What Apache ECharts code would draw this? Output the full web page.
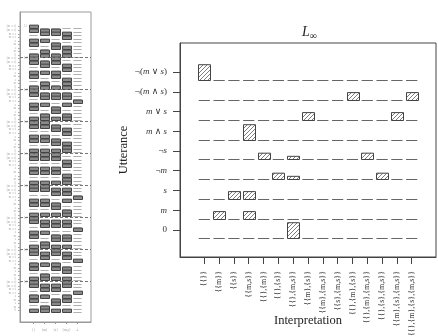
<!DOCTYPE html>
<html>
<head>
<meta charset="utf-8">
<script src="https://cdn.jsdelivr.net/npm/echarts@6/dist/echarts.min.js"></script>
<style>
  html, body { margin: 0; padding: 0; background: #fff; }
  #chart { width: 438px; height: 336px; }
</style>
</head>
<body>
<div id="chart"></div>
<script>
// utterances, top row first
const utterances = ['¬(m ∨ s)', '¬(m ∧ s)', 'm ∨ s', 'm ∧ s', '¬s', '¬m', 's', 'm', '0'];
const interpretations = ['{{}}', '{{m}}', '{{s}}', '{{m,s}}', '{{},{m}}', '{{},{s}}', '{{},{m,s}}',
  '{{m},{s}}', '{{m},{m,s}}', '{{s},{m,s}}', '{{},{m},{s}}', '{{},{m},{m,s}}', '{{},{s},{m,s}}',
  '{{m},{s},{m,s}}', '{{},{m},{s},{m,s}}'];

// L-infinity listener, one row per utterance (same order as utterances)
const linfRows = [
  [1, 0, 0, 0, 0, 0, 0, 0, 0, 0, 0, 0, 0, 0, 0],
  [0, 0, 0, 0, 0, 0, 0, 0, 0, 0, 0.5, 0, 0, 0, 0.5],
  [0, 0, 0, 0, 0, 0, 0, 0.5, 0, 0, 0, 0, 0, 0.5, 0],
  [0, 0, 0, 1, 0, 0, 0, 0, 0, 0, 0, 0, 0, 0, 0],
  [0, 0, 0, 0, 0.4, 0, 0.2, 0, 0, 0, 0, 0.4, 0, 0, 0],
  [0, 0, 0, 0, 0, 0.4, 0.2, 0, 0, 0, 0, 0, 0.4, 0, 0],
  [0, 0, 0.5, 0.5, 0, 0, 0, 0, 0, 0, 0, 0, 0, 0, 0],
  [0, 0.5, 0, 0.5, 0, 0, 0, 0, 0, 0, 0, 0, 0, 0, 0],
  [0, 0, 0, 0, 0, 0, 1, 0, 0, 0, 0, 0, 0, 0, 0]
];

// small panel: one lexicon per block, columns = worlds + contradiction
const worldLabels = ['{}', '{m}', '{s}', '{m,s}', '⊥'];
const lexiconNames = ['L1', 'L2', 'L3', 'L4', 'L5', 'L6', 'L7', 'L8', 'L9'];
const lexicon1 = [[1,0,0,0,0],[1,1,1,0,0],[0,1,1,1,0],[0,0,0,1,0],[1,1,0,0,0],[1,0,1,0,0],[0,0,1,1,0],[0,1,0,1,0],[1,1,1,1,0]];
const lexicon2 = [[1,0,1,0,0],[1,1,1,0,0],[0,1,0,1,0],[0,0,0,1,0],[1,1,1,0,0],[1,0,1,0,0],[0,0,0,1,0],[0,1,0,1,0],[1,1,1,1,0]];
const lexicon3 = [[1,0,0,0,0],[1,1,1,1,0],[0,1,1,1,0],[0,0,0,0,1],[1,1,0,1,0],[1,0,1,0,0],[0,0,1,0,0],[0,1,0,1,0],[1,1,1,1,0]];
const lexicon4 = [[1,1,0,0,0],[1,1,1,0,0],[0,0,1,1,0],[0,0,0,1,0],[1,1,0,0,0],[1,1,1,0,0],[0,0,1,1,0],[0,0,0,1,0],[1,1,1,1,0]];
const lexicon5 = [[1,1,1,0,0],[1,1,1,0,0],[0,0,0,1,0],[0,0,0,1,0],[1,1,1,0,0],[1,1,1,0,0],[0,0,0,1,0],[0,0,0,1,0],[1,1,1,1,0]];
const lexicon6 = [[1,1,0,0,0],[1,1,1,1,0],[0,0,1,1,0],[0,0,0,0,1],[1,1,0,1,0],[1,1,1,0,0],[0,0,1,0,0],[0,0,0,1,0],[1,1,1,1,0]];
const lexicon7 = [[1,0,0,0,0],[1,1,1,1,0],[0,1,1,1,0],[0,0,0,0,1],[1,1,0,0,0],[1,0,1,1,0],[0,0,1,1,0],[0,1,0,0,0],[1,1,1,1,0]];
const lexicon8 = [[1,0,1,0,0],[1,1,1,1,0],[0,1,0,1,0],[0,0,0,0,1],[1,1,1,0,0],[1,0,1,1,0],[0,0,0,1,0],[0,1,0,0,0],[1,1,1,1,0]];
const lexicon9 = [[1,0,0,1,0],[1,1,1,1,0],[0,1,1,0,0],[0,0,0,0,1],[1,1,0,1,0],[1,0,1,1,0],[0,0,1,0,0],[0,1,0,0,0],[1,1,1,1,0]];

const serif = '"Liberation Serif", "DejaVu Serif", serif';
const nU = utterances.length;
const lexica = [lexicon1, lexicon2, lexicon3, lexicon4, lexicon5, lexicon6, lexicon7, lexicon8, lexicon9];
const nRows = lexica.length * nU;   // rows in the small panel

const mainData = [];
linfRows.forEach((row, r) => row.forEach((p, c) => mainData.push([c + 1, nU - 1 - r, p])));

const thumbData = [];
lexica.forEach((lex, g) => lex.forEach((row, r) => row.forEach((p, c) => {
  thumbData.push([c + 1, nRows - 1 - (g * nU + r), p]);
})));

// diagonal hatch used to fill the bars
function makeHatch(color) {
  const cv = document.createElement('canvas');
  cv.width = 4; cv.height = 4;
  const hc = cv.getContext('2d');
  hc.strokeStyle = color;
  hc.lineWidth = 0.9;
  hc.beginPath();
  hc.moveTo(0, 4); hc.lineTo(4, 0);
  hc.moveTo(-1, 1); hc.lineTo(1, -1);
  hc.moveTo(3, 5); hc.lineTo(5, 3);
  hc.stroke();
  return cv;
}

function cellRenderer(opt) {
  return function (params, api) {
    const col = api.value(0), row = api.value(1), p = api.value(2);
    const base = api.coord([col, row - 0.42]);
    const y0 = Math.round(base[1]) + 0.5;
    if (p > 0) {
      const w = api.size([opt.barWidth, 0])[0];
      const h = api.size([0, p * opt.fullHeight])[1];
      return {
        type: 'rect',
        shape: { x: Math.round(base[0] - w / 2) + 0.5, y: y0 - h, width: Math.round(w), height: h },
        style: { fill: opt.fill, stroke: opt.barStroke, lineWidth: 1 }
      };
    }
    const dw = api.size([opt.dashWidth, 0])[0];
    return {
      type: 'line',
      shape: { x1: base[0] - dw / 2, y1: y0, x2: base[0] + dw / 2, y2: y0 },
      style: { stroke: opt.dashColor, lineWidth: 1 }
    };
  };
}

const ticks15 = interpretations.map((d, i) => i + 1);
const ticks9 = utterances.map((d, i) => i);
const ticks5 = worldLabels.map((d, i) => i + 1);
const thumbTicks = [];
for (let i = 0; i < nRows; i++) thumbTicks.push(i);
const separators = lexica.slice(1).map((d, g) => nRows - 1 - (g * nU + 8.73));

const chart = echarts.init(document.getElementById('chart'));
chart.setOption({
  animation: false,
  backgroundColor: '#fff',
  title: {
    text: '{l|L}{s|∞}',
    left: 302, top: 24,
    padding: 0,
    textStyle: {
      fontWeight: 'normal',
      rich: {
        l: { fontFamily: serif, fontStyle: 'italic', fontWeight: 'normal', fontSize: 14, color: '#222' },
        s: { fontFamily: serif, fontWeight: 'normal', fontSize: 10, color: '#222', padding: [7, 0, 0, 0] }
      }
    }
  },
  grid: [
    { left: 180, top: 43, width: 256, height: 214, show: true, borderColor: '#444', borderWidth: 1,
      containLabel: false, outerBoundsMode: 'none' },
    { left: 20, top: 12, width: 71, height: 310, show: true, borderColor: '#999', borderWidth: 1,
      containLabel: false, outerBoundsMode: 'none' }
  ],
  xAxis: [
    {
      gridIndex: 0, type: 'value', min: -0.64, max: 16.64,
      name: 'Interpretation', nameLocation: 'middle', nameGap: 57, nameMoveOverlap: false,
      nameTextStyle: { fontFamily: serif, fontSize: 12.5, fontWeight: 'normal', color: '#222' },
      axisLine: { show: true, onZero: false, lineStyle: { color: '#444' } },
      axisTick: { show: true, customValues: ticks15, length: 7, lineStyle: { color: '#444' } },
      axisLabel: {
        customValues: ticks15, rotate: 90, margin: 14,
        fontFamily: serif, fontSize: 8, color: '#333',
        formatter: v => interpretations[v - 1]
      },
      splitLine: { show: false }
    },
    {
      gridIndex: 1, type: 'value', min: -0.23, max: 6.23,
      axisLine: { show: true, onZero: false, lineStyle: { color: '#999' } },
      axisTick: { show: true, customValues: ticks5, length: 2, lineStyle: { color: '#999' } },
      axisLabel: {
        customValues: ticks5, margin: 6, fontFamily: serif, fontSize: 3.5, color: '#999',
        formatter: v => worldLabels[v - 1]
      },
      splitLine: { show: false }
    }
  ],
  yAxis: [
    {
      gridIndex: 0, type: 'value', min: -1.37, max: 9.47,
      name: 'Utterance', nameLocation: 'middle', nameGap: 50, nameMoveOverlap: false,
      nameTextStyle: { fontFamily: serif, fontSize: 12.5, fontWeight: 'normal', color: '#222' },
      axisLine: { show: true, onZero: false, lineStyle: { color: '#444' } },
      axisTick: { show: true, customValues: ticks9, length: 7, lineStyle: { color: '#444' } },
      axisLabel: {
        customValues: ticks9, margin: 13,
        fontFamily: serif, fontSize: 9, color: '#333',
        formatter: v => utterances[nU - 1 - v].replace(/[ms]/g, c => '{i|' + c + '}'),
        rich: { i: { fontFamily: serif, fontStyle: 'italic', fontSize: 9, color: '#333' } }
      },
      splitLine: { show: false }
    },
    {
      gridIndex: 1, type: 'value', min: -3.18, max: 84.14,
      axisLine: { show: true, onZero: false, lineStyle: { color: '#999' } },
      axisTick: { show: true, customValues: thumbTicks, length: 2, lineStyle: { color: '#aaa' } },
      axisLabel: {
        customValues: thumbTicks, margin: 4, fontFamily: serif, fontSize: 3, color: '#aaa',
        formatter: v => utterances[(nRows - 1 - v) % nU]
      },
      splitLine: { show: false }
    }
  ],
  series: [
    {
      type: 'custom', xAxisIndex: 0, yAxisIndex: 0,
      renderItem: cellRenderer({
        barWidth: 0.8, dashWidth: 0.76, fullHeight: 0.8,
        fill: { image: makeHatch('#707070'), repeat: 'repeat' },
        barStroke: '#444', dashColor: '#666'
      }),
      data: mainData
    },
    {
      type: 'custom', xAxisIndex: 1, yAxisIndex: 1,
      renderItem: cellRenderer({
        barWidth: 0.85, dashWidth: 0.75, fullHeight: 0.95,
        fill: '#8a8a8a', barStroke: '#444', dashColor: '#b0b0b0'
      }),
      data: thumbData,
      markLine: {
        silent: true, symbol: ['none', 'none'],
        label: { show: false },
        lineStyle: { type: [3, 2], color: '#777', width: 1 },
        data: separators.map(y => ({ yAxis: y }))
      }
    },
    {
      type: 'scatter', xAxisIndex: 1, yAxisIndex: 1, symbolSize: 0,
      data: lexiconNames.map((n, g) => [0.3, nRows - 1 - g * nU, n]),
      label: {
        show: true, position: 'inside', fontFamily: serif, fontSize: 3, color: '#999',
        formatter: p => p.data[2]
      }
    }
  ]
});
</script>
</body>
</html>
